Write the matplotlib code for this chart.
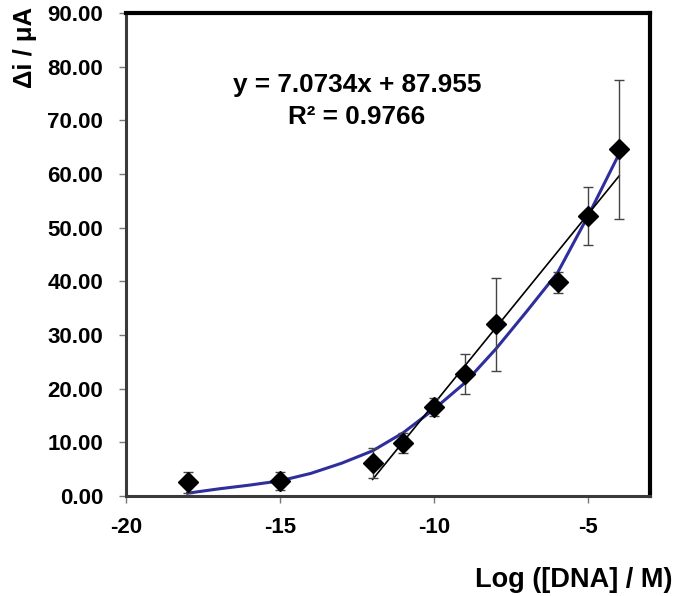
import matplotlib.pyplot as plt

plt.rcParams['font.family'] = ['Liberation Sans', 'DejaVu Sans']
plt.rcParams['font.weight'] = 'bold'
plt.rcParams['axes.unicode_minus'] = False

# measured points
log_dna = [-18, -15, -12, -11, -10, -9, -8, -6, -5, -4]
delta_i = [2.5, 2.8, 6.2, 9.8, 16.6, 22.7, 32.0, 39.8, 52.2, 64.6]
err = [2.0, 1.7, 2.8, 1.9, 1.7, 3.7, 8.7, 1.9, 5.4, 12.9]

# linear trendline (range -12 .. -4)
trend_x = [-12, -4]
trend_y = [3.07, 59.66]

# smooth blue curve
curve_x = [-18, -17, -16, -15, -14, -13, -12, -11, -10, -9, -8, -7, -6, -5, -4]
curve_y = [0.5, 1.3, 2.0, 2.8, 4.2, 6.1, 8.4, 11.8, 16.2, 21.1, 27.4, 34.4, 41.6, 52.3, 63.8]

xticks = [-20, -15, -10, -5]
yticks = [0, 10, 20, 30, 40, 50, 60, 70, 80, 90]

fig = plt.figure(figsize=(6.75, 5.96), dpi=100)
ax = fig.add_axes([0.1867, 0.168, 0.7763, 0.81])

ax.plot(curve_x, curve_y, color='#2E2E9C', lw=2.2, zorder=2)
ax.plot(trend_x, trend_y, color='black', lw=1.2, zorder=2)
ax.errorbar(log_dna, delta_i, yerr=err, fmt='D', color='black', markersize=10.5,
            ecolor='#444444', elinewidth=1, capsize=3.5, capthick=1, zorder=3)

ax.set_xlim(-20, -3)
ax.set_ylim(0, 90)
ax.set_xticks(xticks)
ax.set_yticks(yticks)
ax.set_yticklabels(['%.2f' % v for v in yticks])

for s in ['top', 'right']:
    ax.spines[s].set_linewidth(3)
    ax.spines[s].set_color('black')
for s in ['left', 'bottom']:
    ax.spines[s].set_linewidth(2.2)
    ax.spines[s].set_color('#3a3a3a')

ax.tick_params(axis='both', direction='out', length=5, width=1, color='#777777',
               labelsize=16)
ax.tick_params(axis='x', pad=10)
ax.tick_params(axis='y', pad=11.5)
for lab in ax.get_xticklabels() + ax.get_yticklabels():
    lab.set_fontweight('bold')

ax.text(0.441, 0.851, 'y = 7.0734x + 87.955', transform=ax.transAxes,
        ha='center', va='center', fontsize=18.8, fontweight='bold')
ax.text(0.441, 0.785, 'R² = 0.9766', transform=ax.transAxes,
        ha='center', va='center', fontsize=18.8, fontweight='bold')

fig.text(0.037, 1 - 47 / 596, 'Δi / μA', rotation=90, ha='center', va='center',
         fontsize=18.5, fontweight='bold')
fig.text(0.997, 16 / 596, 'Log ([DNA] / M)', ha='right', va='center',
         fontsize=19.5, fontweight='bold')

fig.savefig('out.png', dpi=100)
